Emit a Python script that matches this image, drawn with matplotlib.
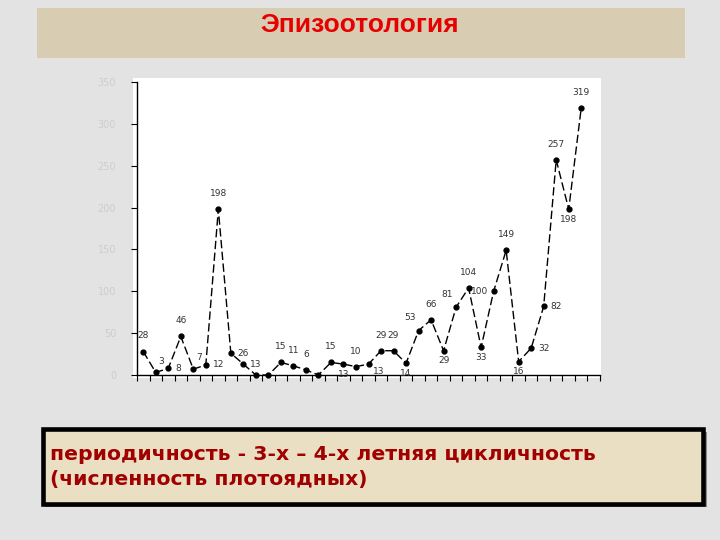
import matplotlib
matplotlib.use("Agg")
import matplotlib.pyplot as plt
import numpy as np
from matplotlib.patches import Rectangle

plt.rcParams['font.family'] = ['DejaVu Sans']

title = "Эпизоотология"
caption_lines = ["периодичность - 3-х – 4-х летняя цикличность", "(численность плотоядных)"]

values = [28, 3, 8, 46, 7, 12, 198, 26, 13, 0, 0, 15, 11, 6, 0, 15, 13, 10, 13,
          29, 29, 14, 53, 66, 29, 81, 104, 33, 100, 149, 16, 32, 82, 257, 198, 319]
show_label = [True, True, True, True, True, True, True, True, True, False, False,
              True, True, True, False, True, True, True, True, True, True, True,
              True, True, True, True, True, True, True, True, True, True, True,
              True, True, True]
# label placement: a=above, b=below, r=right, l=left, al=above-left, ar=above-right
label_pos = ['a', 'ar', 'r', 'a', 'ar', 'r', 'a', 'r', 'r', 'a', 'a', 'a', 'a', 'a', 'a',
             'a', 'b', 'a', 'br', 'a', 'a', 'b', 'al', 'a', 'b', 'al', 'a', 'b', 'l',
             'a', 'b', 'r', 'r', 'a', 'b', 'a']
y_ticks = [0, 50, 100, 150, 200, 250, 300, 350]

fig = plt.figure(figsize=(7.2, 5.4), dpi=100)
fig.patch.set_facecolor('#e3e3e3')

# title banner
fig.add_artist(Rectangle((37/720, 1-58/540), (685-37)/720, 50/540,
                         transform=fig.transFigure, facecolor='#d8ccb2',
                         edgecolor='none', zorder=0))
fig.text(360/720, 1-25/540, title, ha='center', va='center', color='#e60000',
         fontsize=19, fontweight='bold', family=['Liberation Sans', 'DejaVu Sans'])

# white plot area background
fig.add_artist(Rectangle((133/720, 1-378/540), (601-133)/720, (378-78)/540,
                         transform=fig.transFigure, facecolor='white',
                         edgecolor='none', zorder=0))

ax = fig.add_axes([137/720, 1-375/540, (600-137)/720, (375-82)/540])
ax.set_facecolor('none')
x = np.arange(len(values))
ax.plot(x, values, color='black', lw=1.0, linestyle=(0, (6, 2.5)),
        marker='o', markersize=3.5, markerfacecolor='black', clip_on=False)
ax.set_xlim(-0.5, 36.5)
ax.set_ylim(0, 350)
ax.set_yticks(y_ticks)
ax.set_yticklabels([str(v) for v in y_ticks], color='#cdcdcd', fontsize=7)
ax.set_xticks(np.arange(-0.5, 37, 1))
ax.set_xticklabels([])
ax.tick_params(axis='y', direction='out', length=4, width=0.8, pad=11)
ax.tick_params(axis='x', direction='out', length=4, width=0.8)
for s in ['top', 'right']:
    ax.spines[s].set_visible(False)
for s in ['left', 'bottom']:
    ax.spines[s].set_linewidth(1.0)

offs = {'a': (0, 8, 'center', 'bottom'), 'b': (0, -4, 'center', 'top'),
        'r': (5, 0, 'left', 'center'), 'l': (-4, 0, 'right', 'center'),
        'al': (-2, 6, 'right', 'bottom'), 'ar': (2, 5, 'left', 'bottom'),
        'br': (3, -2, 'left', 'top')}
for xi, v, show, p in zip(x, values, show_label, label_pos):
    if not show:
        continue
    dx, dy, ha, va = offs[p]
    ax.annotate(str(v), (xi, v), xytext=(dx, dy), textcoords='offset points',
                ha=ha, va=va, fontsize=6.5, color='#333333')

# caption box (shadow + box)
fig.add_artist(Rectangle((45/720, 1-507/540), (707-45)/720, (507-432)/540,
                         transform=fig.transFigure, facecolor='#8a8a8a',
                         edgecolor='none', zorder=1))
fig.add_artist(Rectangle((43/720, 1-504/540), (703-43)/720, (504-429)/540,
                         transform=fig.transFigure, facecolor='#ebdfc3',
                         edgecolor='black', linewidth=3.3, zorder=2))
for i, line in enumerate(caption_lines):
    fig.text(50/720, 1-(455+24*i)/540, line, ha='left', va='center',
             color='#a00000', fontsize=14.7, fontweight='bold',
             family=['DejaVu Sans'], zorder=3)

fig.savefig('out.png', dpi=100, facecolor=fig.get_facecolor())
